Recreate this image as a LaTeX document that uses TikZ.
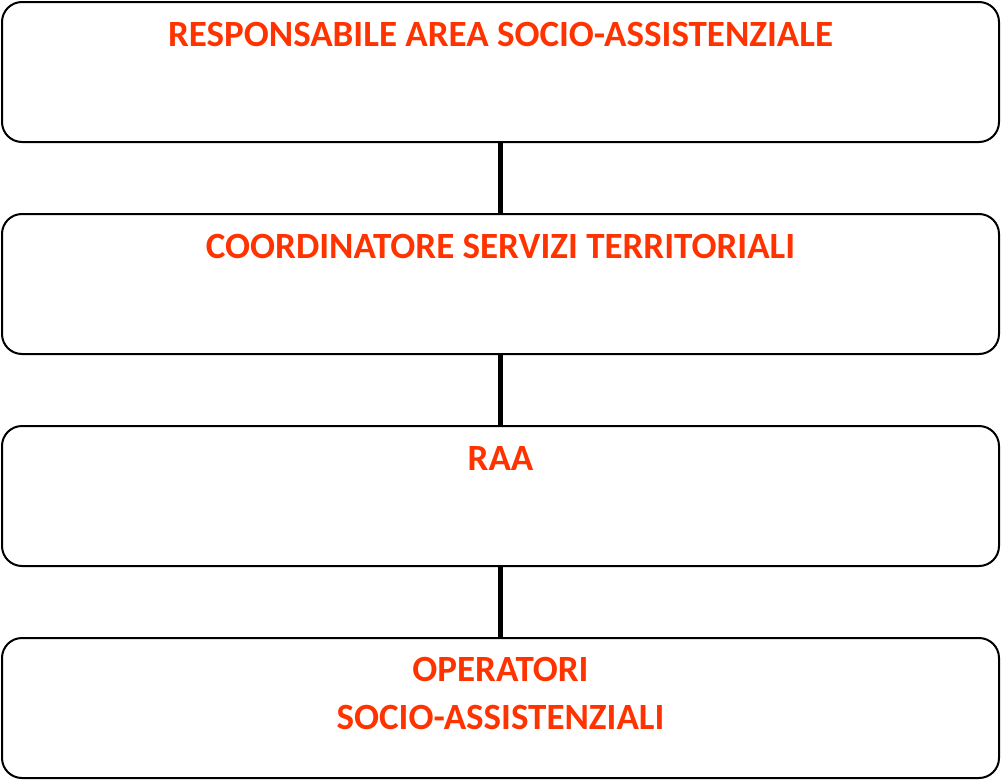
\documentclass[tikz,border=0pt]{standalone}
\usepackage{fontspec}
\setmainfont{Carlito}
\usepackage{tikz}
\usetikzlibrary{positioning}
\definecolor{titlered}{RGB}{255,51,0}

\begin{document}
\begin{tikzpicture}[x=1pt,y=-1pt,
    level/.style={rectangle,draw,line width=2pt,rounded corners=20pt,
      minimum width=997pt,minimum height=140pt,inner sep=0pt},
    title/.style={anchor=base,text=titlered,font=\fontsize{37}{48}\selectfont\bfseries,
      align=center,inner sep=0pt},
    link/.style={line width=5pt}]
    \useasboundingbox (0,0) rectangle (1001,779);

    \node at (500.5,72) [level] (resp) {};
    \node [level,below=70pt of resp] (coord) {};
    \node [level,below=70pt of coord] (raa) {};
    \node [level,below=70pt of raa] (oper) {};

    % base of a two-line node is its last line
    \node at ([yshift=-45pt] resp.north) [title] (resptext) {RESPONSABILE AREA SOCIO-ASSISTENZIALE};
    \node at ([yshift=-45pt] coord.north) [title] (coordtext) {COORDINATORE SERVIZI TERRITORIALI};
    \node at ([yshift=-45pt] raa.north) [title] (raatext) {RAA};
    \node at ([yshift=-92pt] oper.north) [title] (opertext) {OPERATORI\\SOCIO-ASSISTENZIALI};

    \draw[link] (resp.south) -- (coord.north);
    \draw[link] (coord.south) -- (raa.north);
    \draw[link] (raa.south) -- (oper.north);
\end{tikzpicture}
\end{document}
